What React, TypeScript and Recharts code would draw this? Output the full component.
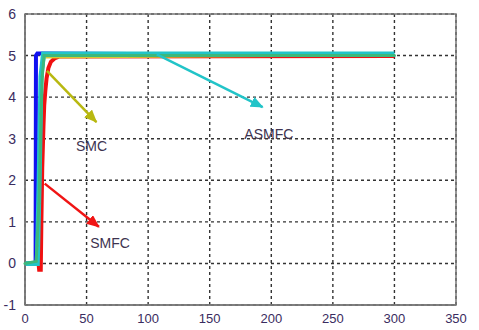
import React from "react"
import { ComposedChart, Line, XAxis, YAxis, CartesianGrid, ReferenceArea, ReferenceDot } from "recharts"

// time axis and responses
const xTicks = [0, 50, 100, 150, 200, 250, 300, 350]
const yTicks = [-1, 0, 1, 2, 3, 4, 5, 6]

const blueX = [0, 8.6, 8.9, 10, 14, 300]
const blueY = [0, 0, 5, 5.05, 5.05, 5.0]

const redX = [0, 11, 11.5, 12.8, 13.3, 14, 15, 15.6, 16.5, 17.5, 19, 21, 24, 28, 300]
const redY = [0, 0, -0.15, -0.15, 1, 2.3, 3.3, 3.8, 4.15, 4.45, 4.7, 4.85, 4.93, 4.98, 4.99]

const smcX = [0, 10, 11, 12, 13, 14.5, 16, 300]
const smcY = [0, 0, 1, 2.5, 3.8, 4.6, 4.95, 5.0]

const cyanX = [0, 10, 11.5, 13, 15, 300]
const cyanY = [0, 0, 2, 4.5, 5.04, 5.04]

const greenX = [0, 9, 9.7, 11.3, 12.1, 13, 14, 15.5, 300]
const greenY = [0, 0.05, 0.43, 1.44, 2.42, 3.6, 4.5, 5.0, 5.0]

// annotation arrows (start, end) and labels
const smcArrowX = [17.8, 58]
const smcArrowY = [4.63, 3.4]
const smfcArrowX = [16, 60]
const smfcArrowY = [1.92, 0.88]
const asmfcArrowX = [107, 193]
const asmfcArrowY = [5.03, 3.76]

const labels = ["SMC", "SMFC", "ASMFC"]
const labelX = [54, 69, 198]
const labelY = [2.83, 0.48, 3.12]

const zip = (xs: number[], ys: number[]) => xs.map((x, i) => ({ x, y: ys[i] }))

const font = "'Liberation Sans', Arial, sans-serif"

export default function App() {
  return (
    <div style={{ position: "absolute", left: 0, top: 0, width: 479, height: 330, background: "#fff" }}>
      <svg width={0} height={0} style={{ position: "absolute" }}>
        <defs>
          <marker id="ahSmc" markerWidth="13" markerHeight="11" refX="12" refY="5.5" orient="auto" markerUnits="userSpaceOnUse">
            <path d="M0,0 L13,5.5 L0,11 z" fill="#b8b810" />
          </marker>
          <marker id="ahSmfc" markerWidth="13" markerHeight="11" refX="12" refY="5.5" orient="auto" markerUnits="userSpaceOnUse">
            <path d="M0,0 L13,5.5 L0,11 z" fill="#f01414" />
          </marker>
          <marker id="ahAsmfc" markerWidth="13" markerHeight="11" refX="12" refY="5.5" orient="auto" markerUnits="userSpaceOnUse">
            <path d="M0,0 L13,5.5 L0,11 z" fill="#22c4c8" />
          </marker>
        </defs>
      </svg>
      <ComposedChart width={479} height={330} margin={{ top: 14, right: 23, bottom: 0, left: 0 }}>
        <CartesianGrid stroke="#333" strokeDasharray="3 3" strokeWidth={1.4} />
        <XAxis
          type="number"
          dataKey="x"
          domain={[0, 350]}
          ticks={xTicks}
          height={25}
          tickSize={0}
          tickMargin={9}
          tick={{ fontSize: 13, fill: "#3a2c60", fontFamily: font }}
          axisLine={{ stroke: "#777", strokeWidth: 1.5 }}
          tickLine={false}
        />
        <YAxis
          type="number"
          domain={[-1, 6]}
          ticks={yTicks}
          width={25}
          tickSize={0}
          tickMargin={9}
          tick={{ fontSize: 14, fill: "#3a2c60", fontFamily: font }}
          axisLine={{ stroke: "#777", strokeWidth: 1.5 }}
          tickLine={false}
        />
        <ReferenceArea x1={0} x2={350} y1={-1} y2={6} fill="none" stroke="#777" strokeWidth={1.5} />
        <Line data={zip(blueX, blueY)} dataKey="y" stroke="#1010f0" strokeWidth={4} dot={false} isAnimationActive={false} />
        <Line data={zip(redX, redY)} dataKey="y" stroke="#f01010" strokeWidth={4} dot={false} isAnimationActive={false} />
        <Line data={zip(smcX, smcY)} dataKey="y" stroke="#d8c830" strokeWidth={1.5} dot={false} isAnimationActive={false} />
        <Line data={zip(cyanX, cyanY)} dataKey="y" stroke="#22c4c8" strokeWidth={5} dot={false} isAnimationActive={false} />
        <Line data={zip(greenX, greenY)} dataKey="y" stroke="#3cb87c" strokeWidth={3} dot={{ r: 1.5, fill: "#3cb87c", stroke: "none" }} isAnimationActive={false} />
        <Line data={zip(smcArrowX, smcArrowY)} dataKey="y" stroke="#b8b810" strokeWidth={2.5} dot={false} markerEnd="url(#ahSmc)" isAnimationActive={false} />
        <Line data={zip(smfcArrowX, smfcArrowY)} dataKey="y" stroke="#f01414" strokeWidth={2.5} dot={false} markerEnd="url(#ahSmfc)" isAnimationActive={false} />
        <Line data={zip(asmfcArrowX, asmfcArrowY)} dataKey="y" stroke="#22c4c8" strokeWidth={2.5} dot={false} markerEnd="url(#ahAsmfc)" isAnimationActive={false} />
        {labels.map((t, i) => (
          <ReferenceDot
            key={t}
            x={labelX[i]}
            y={labelY[i]}
            r={0}
            stroke="none"
            fill="none"
            label={{ value: t, position: "center", fill: "#3d3350", fontSize: 14, fontFamily: font }}
          />
        ))}
      </ComposedChart>
    </div>
  )
}
